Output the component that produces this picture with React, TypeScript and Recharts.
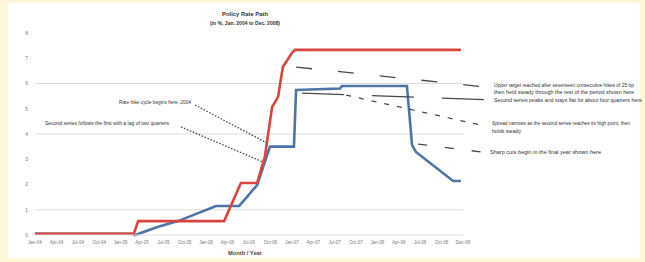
import React from "react";
import { LineChart, Line, XAxis, YAxis, ReferenceLine } from "recharts";

const xTickValues = [0, 5, 10, 15, 20, 25, 30, 35, 40, 45, 50, 55, 60, 65, 70, 75, 80, 85, 90, 95, 100];
const xTickLabels = [
  "Jan-04", "Apr-04", "Jul-04", "Oct-04", "Jan-05", "Apr-05", "Jul-05",
  "Oct-05", "Jan-06", "Apr-06", "Jul-06", "Oct-06", "Jan-07", "Apr-07",
  "Jul-07", "Oct-07", "Jan-08", "Apr-08", "Jul-08", "Oct-08", "Dec-08",
];
const yTickValues = [0, 1, 2, 3, 4, 5, 6, 7, 8];
const gridValues = [1, 4, 6];

const redX = [0, 23.1, 24.1, 44.2, 48.1, 51.9, 53.7, 55.4, 56.8, 57.9, 60.0, 60.7, 99.5];
const redY = [0.05, 0.05, 0.55, 0.55, 2.06, 2.06, 3.09, 5.07, 5.47, 6.65, 7.2, 7.33, 7.33];

const blueX = [0, 22.6, 23.4, 28.6, 33.4, 42.3, 47.7, 49.5, 51.9, 54.9, 60.5, 61.0, 71.3, 71.7, 86.9, 88.1, 89.0, 97.7, 99.5];
const blueY = [0.05, 0.05, 0.0, 0.32, 0.55, 1.15, 1.15, 1.5, 1.98, 3.5, 3.5, 5.74, 5.8, 5.9, 5.9, 3.56, 3.29, 2.14, 2.14];

const titleLines = ["Policy Rate Path", "(in %, Jan. 2004 to Dec. 2008)"];
const xAxisTitle = "Month / Year";

const annotations = [
  { x1: 37.4, y1: 5.15, x2: 54.2, y2: 3.64, dash: "1.6 1.6" },
  { x1: 34.1, y1: 4.28, x2: 53.3, y2: 2.89, dash: "1.6 1.6" },
  { x1: 61.0, y1: 6.65, x2: 105.4, y2: 5.86, dash: "16 26" },
  { x1: 62.4, y1: 5.62, x2: 106.3, y2: 5.35, dash: "42 28" },
  { x1: 72.7, y1: 5.54, x2: 104.0, y2: 4.36, dash: "5 8" },
  { x1: 89.5, y1: 3.6, x2: 104.2, y2: 3.29, dash: "9 18" },
];

const annotationTexts = [
  { x: 191, y: 104, anchor: "end", len: 72, text: "Rate hike cycle begins here, 2004" },
  { x: 45, y: 125, anchor: "start", len: 124, text: "Second series follows the first with a lag of two quarters" },
  { x: 494, y: 87, anchor: "start", len: 140, text: "Upper target reached after seventeen consecutive hikes of 25 bp" },
  { x: 494, y: 94, anchor: "start", len: 140, text: "then held steady through the rest of the period shown here" },
  { x: 494, y: 102, anchor: "start", len: 148, text: "Second series peaks and stays flat for about four quarters here" },
  { x: 492, y: 125, anchor: "start", len: 138, text: "Spread narrows as the second series reaches its high point, then" },
  { x: 492, y: 133, anchor: "start", len: 29, text: "holds steady" },
  { x: 490, y: 154, anchor: "start", len: 111, text: "Sharp cuts begin in the final year shown here" },
];

const redData = redX.map((x, i) => ({ x, v: redY[i] }));
const blueData = blueX.map((x, i) => ({ x, v: blueY[i] }));

const FONT = "'Liberation Sans', Arial, sans-serif";

const XTick = (props: any) => {
  const { x, y, payload } = props;
  const idx = xTickValues.indexOf(payload.value);
  return (
    <text x={x} y={y + 4} textAnchor="middle" fontSize={4.5} fill="#7a7a7a" fontFamily={FONT}>
      {idx >= 0 ? xTickLabels[idx] : ""}
    </text>
  );
};

export default function App() {
  return (
    <div style={{ position: "relative", width: 645, height: 262, background: "#FFF7D9", overflow: "hidden" }}>
      <style>{"body{margin:0}"}</style>
      <div style={{ position: "absolute", left: 8, top: 3, width: 632, height: 255, background: "#ffffff" }} />
      <div style={{ position: "absolute", left: 0, top: 0 }}>
        <LineChart width={645} height={262} margin={{ top: 33, right: 182, bottom: 7, left: 15 }}>
          <XAxis
            dataKey="x"
            type="number"
            domain={[0, 100]}
            ticks={xTickValues}
            interval={0}
            tickSize={0}
            tickMargin={5}
            height={20}
            axisLine={{ stroke: "#e0e0e0" }}
            tickLine={false}
            tick={<XTick />}
            allowDataOverflow
          />
          <YAxis
            type="number"
            domain={[0, 8]}
            ticks={yTickValues}
            width={20}
            tickSize={0}
            tickMargin={7}
            axisLine={false}
            tickLine={false}
            tick={{ fontSize: 5, fill: "#7a7a7a", fontFamily: FONT }}
          />
          {gridValues.map((g) => (
            <ReferenceLine key={"g" + g} y={g} stroke="#dcdcdc" strokeWidth={1} />
          ))}
          <Line
            data={blueData}
            dataKey="v"
            type="linear"
            stroke="#4f74a6"
            strokeWidth={2.6}
            dot={false}
            isAnimationActive={false}
          />
          <Line
            data={redData}
            dataKey="v"
            type="linear"
            stroke="#d8453e"
            strokeWidth={2.6}
            dot={false}
            isAnimationActive={false}
          />
          {annotations.map((a, i) => (
            <ReferenceLine
              key={"a" + i}
              segment={[{ x: a.x1, y: a.y1 }, { x: a.x2, y: a.y2 }]}
              stroke="#4a4a4a"
              strokeWidth={1.3}
              strokeDasharray={a.dash}
              ifOverflow="visible"
            />
          ))}
        </LineChart>
      </div>
      <svg width={645} height={262} style={{ position: "absolute", left: 0, top: 0, pointerEvents: "none" }}>
        <text x={245} y={16} textAnchor="middle" fontSize={5.5} fontWeight="bold" fill="#333" fontFamily={FONT} textLength={46} lengthAdjust="spacingAndGlyphs">
          {titleLines[0]}
        </text>
        <text x={245} y={24.5} textAnchor="middle" fontSize={5.5} fontWeight="bold" fill="#333" fontFamily={FONT} textLength={70} lengthAdjust="spacingAndGlyphs">
          {titleLines[1]}
        </text>
        <text x={245} y={255} textAnchor="middle" fontSize={5} fontWeight="bold" fill="#444" fontFamily={FONT} textLength={34} lengthAdjust="spacingAndGlyphs">
          {xAxisTitle}
        </text>
        {annotationTexts.map((t, i) => (
          <text
            key={i}
            x={t.x}
            y={t.y}
            textAnchor={t.anchor as any}
            fontSize={4.8}
            fill="#333"
            fontFamily={FONT}
            textLength={t.len}
            lengthAdjust="spacingAndGlyphs"
          >
            {t.text}
          </text>
        ))}
      </svg>
    </div>
  );
}
